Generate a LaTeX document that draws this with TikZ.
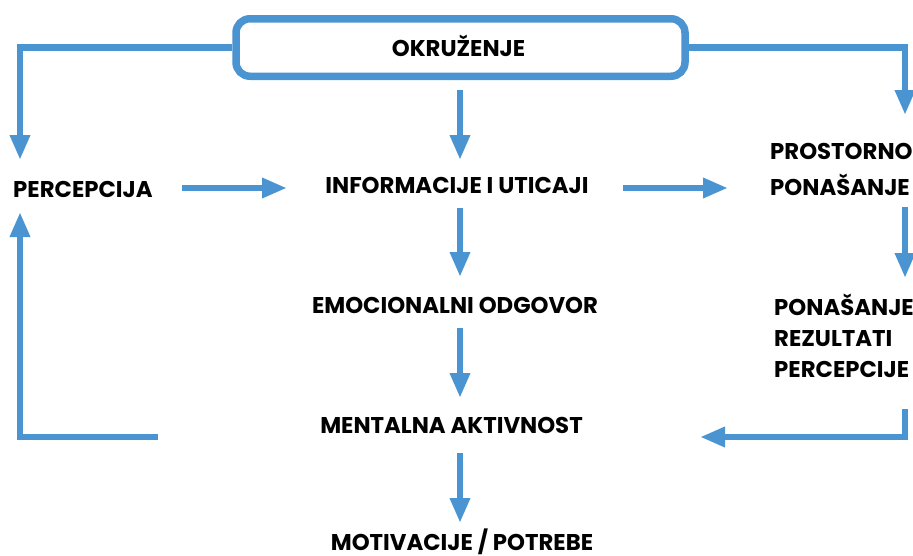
\documentclass[tikz,border=0pt]{standalone}
\usepackage{fontspec}
\setmainfont{Poppins}
\usetikzlibrary{arrows.meta}
\definecolor{flow}{RGB}{74,148,210}
\begin{document}
\begin{tikzpicture}[x=1pt,y=-1pt,
  lbl/.style={font=\bfseries\fontsize{22.8}{31}\selectfont, text=black, inner sep=0pt},
  link/.style={draw=flow, line width=6.5pt},
  flowarrow/.style={link, -{Triangle[length=25pt,width=19pt]}}]
\useasboundingbox (0,0) rectangle (913,555);

% environment box
\node[draw=flow, line width=7.5pt, rounded corners=14pt, minimum width=449pt,
      minimum height=57.5pt, inner sep=0pt] (env) at (460.5,47.5) {};
\node[lbl, anchor=base] (envtxt) at (458.5,56) {OKRUŽENJE};

% labels (multi-line nodes are anchored at the baseline of their last line)
\node[lbl, anchor=base west] (perc) at (13,197) {PERCEPCIJA};
\node[lbl, anchor=base] (info) at (457,193) {INFORMACIJE I UTICAJI};
\node[lbl, anchor=base west, align=left] (prost) at (770,195) {PROSTORNO\\[5pt]PONAŠANJE};
\node[lbl, anchor=base] (emo) at (455,313) {EMOCIONALNI ODGOVOR};
\node[lbl, anchor=base west, align=left] (rez) at (774,377) {PONAŠANJE\\REZULTATI\\PERCEPCIJE};
\node[lbl, anchor=base] (ment) at (451.5,433) {MENTALNA AKTIVNOST};
\node[lbl, anchor=base] (motiv) at (462,550.5) {MOTIVACIJE / POTREBE};

% connector end points
\coordinate (percIn) at (20,160);
\coordinate (percUp) at (20,212);
\coordinate (percOut) at (182,188);
\coordinate (infoIn) at (287,188);
\coordinate (infoTop) at (460,90);
\coordinate (infoDown) at (460,160);
\coordinate (infoOut) at (623,188);
\coordinate (prostIn) at (728,188);
\coordinate (prostTop) at (905,115);
\coordinate (prostOut) at (905,207);
\coordinate (rezIn) at (905,278);
\coordinate (emoIn) at (460,208);
\coordinate (emoDown) at (460,277);
\coordinate (mentIn) at (460,328);
\coordinate (mentDown) at (460,398);
\coordinate (motivIn) at (460,453);
\coordinate (motivDown) at (460,523);
\coordinate (rezOut) at (905,409);
\coordinate (mentBack) at (700,437);
\coordinate (mentOut) at (158,437);

% connectors
\draw[flowarrow] (env.west) -| (percIn);
\draw[flowarrow] (env.east) -| (prostTop);
\draw[flowarrow] (infoTop) -- (infoDown);
\draw[flowarrow] (percOut) -- (infoIn);
\draw[flowarrow] (infoOut) -- (prostIn);
\draw[flowarrow] (prostOut) -- (rezIn);
\draw[flowarrow] (emoIn) -- (emoDown);
\draw[flowarrow] (mentIn) -- (mentDown);
\draw[flowarrow] (motivIn) -- (motivDown);
\draw[flowarrow] (rezOut) |- (mentBack);
\draw[flowarrow] (mentOut) -| (percUp);
\end{tikzpicture}
\end{document}
